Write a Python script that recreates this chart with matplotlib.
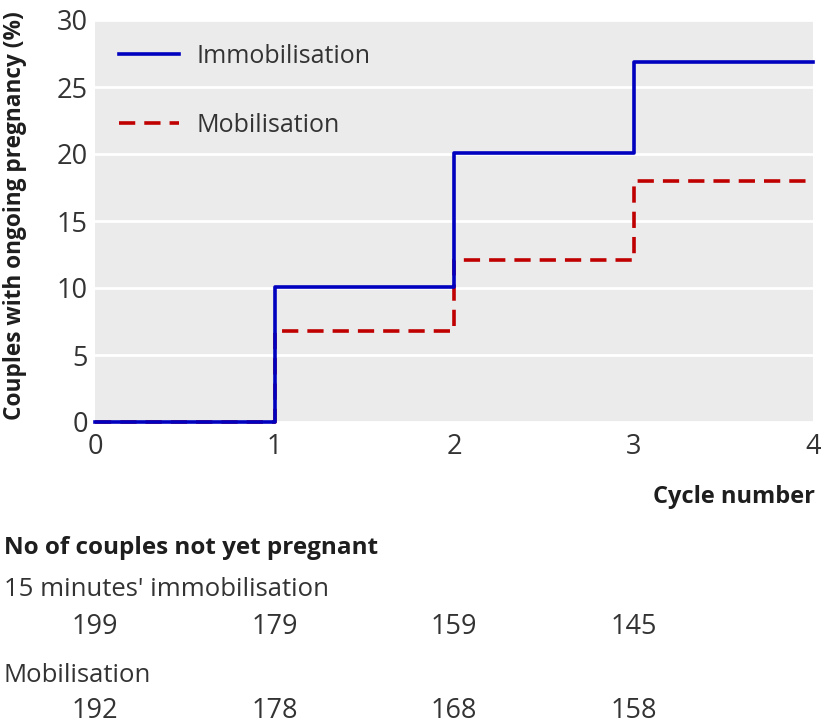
import numpy as np
from matplotlib import pyplot as plt

plt.rcParams['font.family'] = ['Open Sans', 'DejaVu Sans']

cycles = [0, 1, 2, 3, 4]
immobilisation = [0, 10.05, 20.1, 26.85, 26.85]
mobilisation = [0, 6.8, 12.1, 18.0, 18.0]

at_risk_cycles = [0, 1, 2, 3]
at_risk_immob = [199, 179, 159, 145]
at_risk_mob = [192, 178, 168, 158]

blue = "#0000bf"
red = "#c00000"
grey = "#333333"
dark = "#1e1e1e"

fig = plt.figure(figsize=(8.24, 7.24), dpi=100)
ax = fig.add_axes([95 / 824, 1 - 422 / 724, (813 - 95) / 824, (422 - 20) / 724])
ax.set_facecolor("#ebebeb")

ax.step(cycles, immobilisation, where="post", color=blue, lw=2.6,
        label="Immobilisation", clip_on=False, zorder=4)
ax.step(cycles, mobilisation, where="post", color=red, lw=2.6,
        dashes=(4.5, 2.5), label="Mobilisation", clip_on=False, zorder=3)

ax.set_xlim(0, 4)
ax.set_ylim(0, 30)
ax.set_xticks(range(5))
ax.set_yticks(range(0, 31, 5))
ax.yaxis.grid(True, color="white", lw=2)
ax.set_axisbelow(True)
for s in ax.spines.values():
    s.set_visible(False)
ax.tick_params(length=0, labelsize=19.5, colors=grey, pad=5)
ax.tick_params(axis="x", pad=8)

# y label placed by hand so it fits in the figure height
fig.text(15 / 824, 1 - 216 / 724, "Couples with ongoing pregnancy (%)",
         rotation=90, ha="center", va="center", fontsize=16.3,
         fontweight="bold", color=dark)
fig.text(815 / 824, 1 - 497 / 724, "Cycle number", ha="right", va="center",
         fontsize=17, fontweight="bold", color=dark)

leg = ax.legend(loc="upper left", frameon=False, fontsize=18, handlelength=2.4,
                handletextpad=0.7, labelspacing=1.75, borderaxespad=0.55,
                labelcolor=grey, bbox_to_anchor=(0.0, 1.0))

# numbers at risk table
fig.text(4 / 824, 1 - 548 / 724, "No of couples not yet pregnant", ha="left",
         va="center", fontsize=17.5, fontweight="bold", color=dark)
fig.text(4 / 824, 1 - 590 / 724, "15 minutes' immobilisation", ha="left",
         va="center", fontsize=18.5, color=grey)
fig.text(4 / 824, 1 - 675 / 724, "Mobilisation", ha="left",
         va="center", fontsize=18.5, color=grey)
trans = ax.get_xaxis_transform()
for c, n in zip(at_risk_cycles, at_risk_immob):
    ax.text(c, 1 - (627 - 20) / 402, str(n), transform=trans, ha="center",
            va="center", fontsize=19.5, color=grey, clip_on=False)
for c, n in zip(at_risk_cycles, at_risk_mob):
    ax.text(c, 1 - (711 - 20) / 402, str(n), transform=trans, ha="center",
            va="center", fontsize=19.5, color=grey, clip_on=False)

plt.savefig("out.png", dpi=100)
